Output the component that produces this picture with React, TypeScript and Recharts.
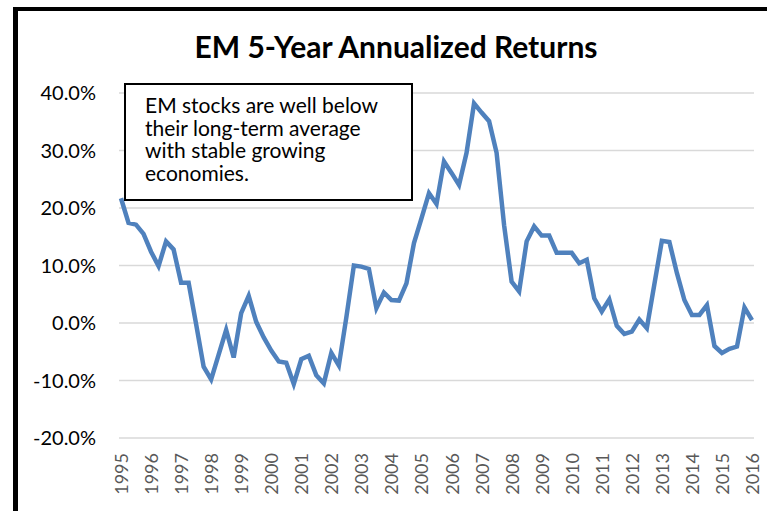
import React from "react";
import { LineChart, Line, XAxis, YAxis, CartesianGrid } from "recharts";

// one label per year, the series is quarterly (Q1 1995 .. Q1 2016)
const years: string[] = [
  "1995", "1996", "1997", "1998", "1999", "2000", "2001", "2002", "2003", "2004", "2005",
  "2006", "2007", "2008", "2009", "2010", "2011", "2012", "2013", "2014", "2015", "2016",
];

const quarters: string[] = ["Q1", "Q2", "Q3", "Q4"];

// 5-year annualized return, percent
const returns: number[] = [
  21.7, 17.4, 17.1, 15.5, 12.4, 9.9, 14.2, 12.8, 7.0, 7.0,
  -0.2, -7.6, -9.8, -5.5, -1.2, -6.0, 1.7, 4.7, 0.2, -2.5,
  -4.8, -6.7, -6.9, -10.6, -6.3, -5.7, -9.1, -10.5, -5.2, -7.4,
  1.0, 10.0, 9.8, 9.4, 2.6, 5.3, 4.0, 3.9, 6.9, 13.9,
  18.2, 22.6, 20.7, 28.1, 26.1, 24.0, 29.6, 38.2, 36.6, 35.1,
  29.6, 17.0, 7.2, 5.5, 14.2, 16.8, 15.2, 15.2, 12.2, 12.2,
  12.2, 10.4, 11.0, 4.3, 2.0, 4.1, -0.5, -1.9, -1.5, 0.6,
  -0.9, 6.7, 14.3, 14.1, 8.7, 4.0, 1.4, 1.4, 3.1, -4.0,
  -5.2, -4.5, -4.1, 2.7, 0.5,
];

const yTicks: number[] = [-20, -10, 0, 10, 20, 30, 40];

const noteLines: string[] = [
  "EM stocks are well below",
  "their long-term average",
  "with stable growing",
  "economies.",
];

const data = returns.map((value, i) => ({
  period: years[Math.floor(i / 4)] + " " + quarters[i % 4],
  value,
}));

const FONT = "Lato, 'Open Sans', sans-serif";

const YearTick = (props: any) => {
  const { x, y, payload } = props;
  const year = String(payload.value).split(" ")[0];
  return (
    <g transform={`translate(${x},${y})`}>
      <text
        transform="rotate(-90)"
        x={-15}
        y={0}
        textAnchor="end"
        dominantBaseline="central"
        fill="#595959"
        fontSize={18}
        fontFamily={FONT}
      >
        {year}
      </text>
    </g>
  );
};

export default function App() {
  return (
    <div
      style={{
        position: "absolute",
        left: 0,
        top: 0,
        width: 767,
        height: 511,
        overflow: "hidden",
        background: "#fff",
      }}
    >
      {/* the black frame, only top and left edges are inside the picture */}
      <div
        style={{
          position: "absolute",
          left: 13,
          top: 7,
          width: 800,
          height: 600,
          borderTop: "4px solid #000",
          borderLeft: "5px solid #000",
        }}
      />
      <div
        style={{
          position: "absolute",
          left: 0,
          top: 31,
          width: 792,
          textAlign: "center",
          fontFamily: FONT,
          fontWeight: 700,
          fontSize: 30,
          lineHeight: "30px",
          color: "#000",
        }}
      >
        EM 5-Year Annualized Returns
      </div>
      <div style={{ position: "absolute", left: 0, top: 0 }}>
        <LineChart
          width={767}
          height={511}
          data={data}
          margin={{ top: 93, right: 13, bottom: 0, left: 0 }}
        >
          <CartesianGrid vertical={false} stroke="#d9d9d9" strokeWidth={1.5} />
          <XAxis
            dataKey="period"
            interval={3}
            height={73}
            axisLine={false}
            tickLine={false}
            tickSize={0}
            tickMargin={0}
            padding={{ left: 2, right: 2 }}
            tick={<YearTick />}
          />
          <YAxis
            width={119}
            domain={[-20, 40]}
            ticks={yTicks}
            axisLine={false}
            tickLine={false}
            tickSize={0}
            tickMargin={23}
            tickFormatter={(v: number) => v.toFixed(1) + "%"}
            tick={{ fill: "#000", fontSize: 20, fontFamily: FONT }}
          />
          <Line
            type="linear"
            dataKey="value"
            stroke="#4f81bd"
            strokeWidth={4.5}
            dot={false}
            isAnimationActive={false}
          />
        </LineChart>
      </div>
      <div
        style={{
          position: "absolute",
          left: 124,
          top: 83,
          width: 289,
          height: 118,
          boxSizing: "border-box",
          border: "2px solid #000",
          background: "#fff",
          paddingLeft: 19,
          paddingTop: 9,
          fontFamily: FONT,
          fontSize: 21,
          lineHeight: "22.7px",
          color: "#000",
        }}
      >
        {noteLines.map((t, i) => (
          <div key={i}>{t}</div>
        ))}
      </div>
    </div>
  );
}
